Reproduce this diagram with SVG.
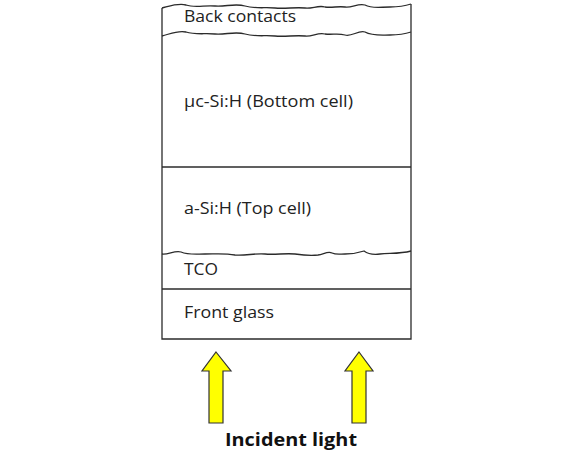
<svg xmlns="http://www.w3.org/2000/svg" width="561" height="458" viewBox="0 0 561 458">
<style>
.ln{fill:none;stroke:#2b2b2b;stroke-width:1.3}
.lb{font-family:"Open Sans","Liberation Sans",sans-serif;font-size:16px;fill:#222}
.arw{fill:#ffff00;stroke:#333;stroke-width:1.2}
</style>
<rect width="561" height="458" fill="#fff"/>
<g id="back-contacts">
<path class="ln" d="M162,8 C170,6 178,3 186,5 C195,8 205,5 215,6 C225,7 235,3 245,6 C255,9 265,7 275,8 C285,9 295,7 305,8 C312,9 318,5 325,7 C332,8 338,6 345,7 C352,8 358,3 365,5 C372,9 380,7 390,7 C398,7 405,6 411,4"/>
<path class="ln" d="M162,36 C170,34 178,30 186,32 C195,35 205,33 215,34 C225,35 235,31 245,34 C255,37 265,35 275,36 C285,37 295,35 305,36 C312,37 318,32 325,34 C332,35 338,33 345,35 C352,37 358,30 365,32 C372,36 380,35 390,35 C398,35 405,34 411,32"/>
<text class="lb" x="184" y="22" textLength="112" lengthAdjust="spacingAndGlyphs">Back contacts</text>
</g>
<g id="bottom-cell">
<text class="lb" x="184" y="107" textLength="169" lengthAdjust="spacingAndGlyphs">µc-Si:H (Bottom cell)</text>
</g>
<g id="top-cell">
<text class="lb" x="184" y="214" textLength="127" lengthAdjust="spacingAndGlyphs">a-Si:H (Top cell)</text>
</g>
<g id="tco">
<path class="ln" d="M162,254 C168,255 175,250 181,252 C188,255 195,254 205,254 C215,254 225,253 235,255 C245,256 255,253 265,254 C275,255 285,253 295,254 C302,255 310,256 318,255 C324,254 328,251 332,253 C336,255 340,254 345,254 C352,254 358,253 364,251 C368,254 372,255 380,254 C390,253 400,254 411,251"/>
<text class="lb" x="184" y="275" textLength="34" lengthAdjust="spacingAndGlyphs">TCO</text>
</g>
<g id="front-glass">
<text class="lb" x="184" y="318" textLength="90" lengthAdjust="spacingAndGlyphs">Front glass</text>
</g>
<g id="connectors">
<path class="ln" d="M162,8 V339 H411 V4"/>
<path class="ln" d="M162,167 H411"/>
<path class="ln" d="M162,289 H411"/>
</g>
<g id="arrow-left">
<path class="arw" d="M216,352 L231,371 L223,371 L223,423 L209,423 L209,371 L202,371 Z"/>
</g>
<g id="arrow-right">
<path class="arw" d="M359,352 L373,371 L366,371 L366,423 L352,423 L352,371 L345,371 Z"/>
</g>
<g id="caption">
<text x="225" y="446" textLength="132" lengthAdjust="spacingAndGlyphs" style="font-family:'Open Sans','Liberation Sans',sans-serif;font-size:18px;font-weight:bold;fill:#111">Incident light</text>
</g>
</svg>
